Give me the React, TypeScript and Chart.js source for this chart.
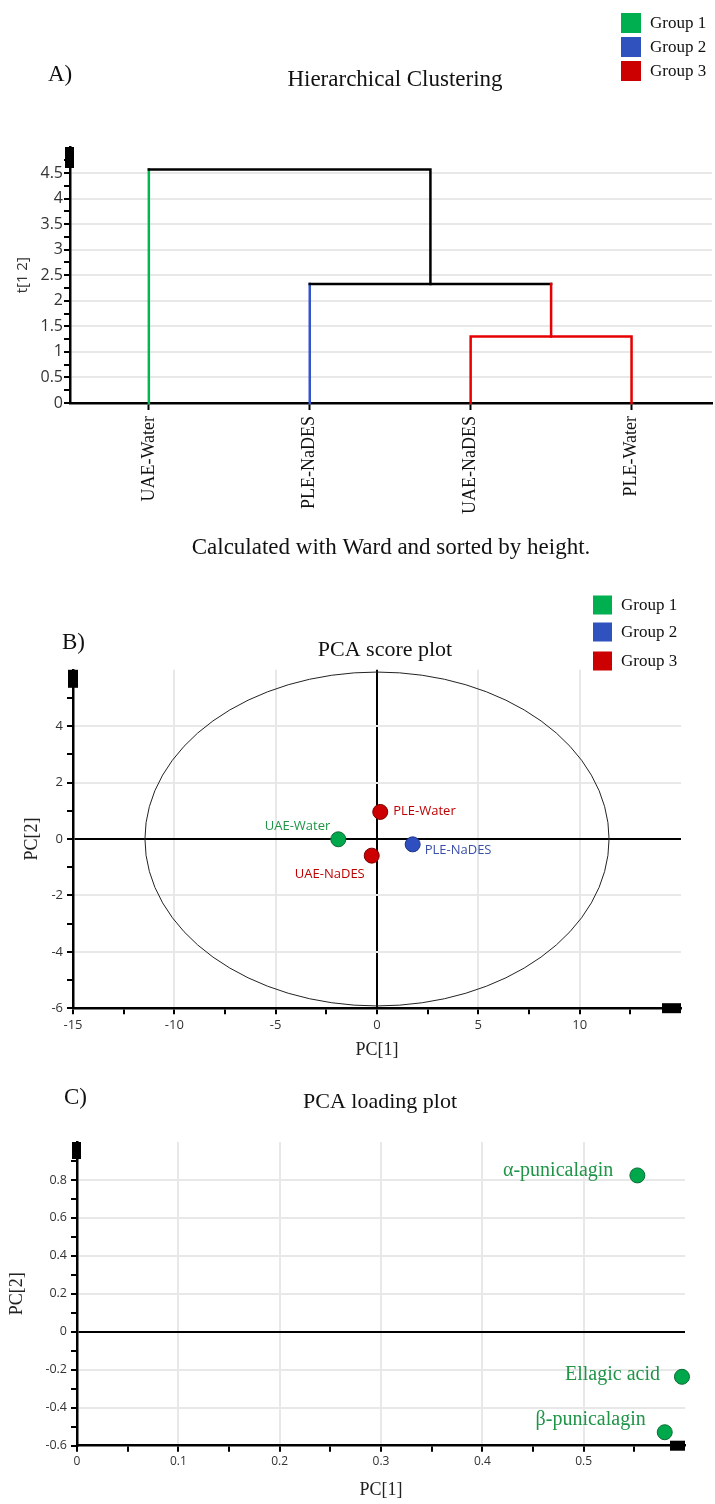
import React, { useEffect, useRef } from 'react';
import { Chart, registerables } from 'chart.js';
Chart.register(...registerables);

// ---------- data ----------
const GROUP_NAMES = ['Group 1', 'Group 2', 'Group 3'];

// Panel A: hierarchical clustering (Ward)
const LEAVES = ['UAE-Water', 'PLE-NaDES', 'UAE-NaDES', 'PLE-Water'];
const LEAF_GROUP = [1, 2, 3, 3];
// children: >=0 leaf index, <0 earlier merge -(k+1)
const MERGE_LEFT = [2, 1, 0];
const MERGE_RIGHT = [3, -1, -2];
const MERGE_HEIGHT = [1.3, 2.33, 4.57];
const A_Y_MAJOR = [0, 0.5, 1, 1.5, 2, 2.5, 3, 3.5, 4, 4.5];
const A_Y_MINOR = [0.25, 0.75, 1.25, 1.75, 2.25, 2.75, 3.25, 3.75, 4.25, 4.75];

// Panel B: PCA score plot
const SCORE_NAMES = ['UAE-Water', 'PLE-NaDES', 'UAE-NaDES', 'PLE-Water'];
const SCORE_PC1 = [-1.91, 1.76, -0.26, 0.16];
const SCORE_PC2 = [-0.01, -0.19, -0.59, 0.96];
const SCORE_GROUP = [1, 2, 3, 3];
const ELLIPSE_PC1 = 11.45;
const ELLIPSE_PC2 = 5.92;
const B_X_MAJOR = [-15, -10, -5, 0, 5, 10];
const B_X_MINOR = [-12.5, -7.5, -2.5, 2.5, 7.5, 12.5];
const B_Y_MAJOR = [-6, -4, -2, 0, 2, 4];
const B_Y_MINOR = [-5, -3, -1, 1, 3, 5];

// Panel C: PCA loading plot
const LOAD_NAMES = ['α-punicalagin', 'Ellagic acid', 'β-punicalagin'];
const LOAD_PC1 = [0.553, 0.597, 0.58];
const LOAD_PC2 = [0.824, -0.237, -0.529];
const C_X_MAJOR = [0, 0.1, 0.2, 0.3, 0.4, 0.5];
const C_X_MINOR = [0.05, 0.15, 0.25, 0.35, 0.45, 0.55];
const C_Y_MAJOR = [-0.6, -0.4, -0.2, 0, 0.2, 0.4, 0.6, 0.8];
const C_Y_MINOR = [-0.5, -0.3, -0.1, 0.1, 0.3, 0.5, 0.7, 0.9];

// ---------- styles ----------
const SERIF = '"Liberation Serif", "Times New Roman", serif';
const SANS = '"Open Sans", "Noto Sans", sans-serif';
const GRID = '#e8e8e8';
const NONE = 'rgba(0,0,0,0)';
const TICK_TEXT = '#333';
const GROUP_COLORS = ['#00b050', '#2f52be', '#cc0000'];
const LINE_COLORS = ['#000000', '#00b84f', '#3355cc', '#e60000'];
const POINT_FILL = ['#00a84c', '#2f4fc0', '#cc0000'];
const POINT_BORDER = ['#0b6b33', '#1d3380', '#7a0000'];
const LABEL_COLORS = ['#1f9447', '#3a4fa8', '#c00000'];
const SCORE_LABEL_POS = [
  { dx: -8, dy: -13, align: 'right' },
  { dx: 12, dy: 6, align: 'left' },
  { dx: -7, dy: 19, align: 'right' },
  { dx: 13, dy: -1, align: 'left' },
];
const LOAD_LABEL_POS = [
  { dx: -24, dy: -5 },
  { dx: -22, dy: -2 },
  { dx: -19, dy: -12 },
];

// ---------- helpers ----------
const near = (a: number, b: number) => Math.abs(a - b) < 1e-7;
const isIn = (arr: number[], v: number) => arr.some((m) => near(m, v));
const fmt = (v: number) => String(Number(v.toFixed(3)));
const tickList = (a: number[], b: number[]) =>
  [...a, ...b].sort((p, q) => p - q).map((v) => ({ value: v }));

function gridFn(gray: number[], black: number[]) {
  return (c: any) => {
    const v = c.tick ? c.tick.value : undefined;
    if (v === undefined) return NONE;
    if (isIn(black, v)) return '#000';
    if (isIn(gray, v)) return GRID;
    return NONE;
  };
}

function drawText(ctx: any, s: string, x: number, y: number, font: string, color: string, align: string) {
  ctx.font = font;
  ctx.fillStyle = color;
  ctx.textAlign = align;
  ctx.textBaseline = 'middle';
  ctx.fillText(s, x, y);
}

function drawLegend(ctx: any, x: number, ys: number[], size: number, textX: number, fontSize: number) {
  GROUP_NAMES.forEach((g, i) => {
    ctx.fillStyle = GROUP_COLORS[i];
    ctx.fillRect(x, ys[i] - size / 2, size, size);
    drawText(ctx, g, textX, ys[i] + 1, `${fontSize}px ${SERIF}`, '#111', 'left');
  });
}

function dendroSegments() {
  const nx: number[] = [];
  const nh: number[] = [];
  const ng: number[] = [];
  const node = (c: number) =>
    c >= 0 ? { x: c, h: 0, g: LEAF_GROUP[c] } : { x: nx[-c - 1], h: nh[-c - 1], g: ng[-c - 1] };
  return MERGE_HEIGHT.map((h, k) => {
    const L = node(MERGE_LEFT[k]);
    const R = node(MERGE_RIGHT[k]);
    const g = L.g === R.g ? L.g : 0;
    nx.push((L.x + R.x) / 2);
    nh.push(h);
    ng.push(g);
    return {
      pts: [
        { x: L.x, y: L.h },
        { x: L.x, y: h },
        { x: R.x, y: h },
        { x: R.x, y: R.h },
      ],
      colors: [LINE_COLORS[L.g], LINE_COLORS[g], LINE_COLORS[R.g]],
    };
  });
}

const baseOpts = {
  responsive: false,
  animation: false,
  devicePixelRatio: 1,
  events: [],
};
const noPlugins = { legend: { display: false }, tooltip: { enabled: false }, title: { display: false } };

// ---------- panel A ----------
function makeA() {
  const segs = dendroSegments();
  const decor = {
    id: 'decorA',
    afterDraw(chart: any) {
      const ctx = chart.ctx;
      const { left, top } = chart.chartArea;
      ctx.save();
      ctx.fillStyle = '#000';
      ctx.fillRect(left - 5, top - 0.5, 9, 21);
      drawText(ctx, 'A)', 48, 75, `23px ${SERIF}`, '#111', 'left');
      drawText(ctx, 'Hierarchical Clustering', 395, 80, `23px ${SERIF}`, '#111', 'center');
      drawLegend(ctx, 621, [23, 47, 71], 20, 650, 17);
      ctx.restore();
    },
  };
  return {
    type: 'scatter',
    data: {
      datasets: segs.map((s) => ({
        data: s.pts,
        showLine: true,
        pointRadius: 0,
        borderWidth: 2.5,
        borderColor: s.colors[1],
        segment: { borderColor: (c: any) => s.colors[c.p0DataIndex] },
        borderCapStyle: 'square',
        borderJoinStyle: 'miter',
        clip: false,
      })),
    },
    options: {
      ...baseOpts,
      layout: { padding: { top: 147.5, left: 0, right: 3, bottom: 0 } },
      plugins: noPlugins,
      scales: {
        x: {
          type: 'linear',
          min: -0.49,
          max: 3.5,
          afterBuildTicks: (s: any) => {
            s.ticks = LEAVES.map((_, i) => ({ value: i }));
          },
          afterFit: (s: any) => {
            s.height = 167;
          },
          ticks: {
            autoSkip: false,
            minRotation: 90,
            maxRotation: 90,
            padding: 6,
            color: '#111',
            font: { family: SERIF, size: 18 },
            callback: (v: number) => LEAVES[Math.round(v)] ?? '',
          },
          grid: { drawOnChartArea: false, drawTicks: true, tickLength: 7, tickWidth: 2, tickColor: '#000' },
          border: { color: '#000', width: 2.5 },
          title: {
            display: true,
            text: 'Calculated with Ward and sorted by height.',
            color: '#111',
            font: { family: SERIF, size: 23 },
            padding: { top: 0, bottom: 8 },
          },
        },
        y: {
          type: 'linear',
          min: 0,
          max: 5,
          afterBuildTicks: (s: any) => {
            s.ticks = tickList(A_Y_MAJOR, A_Y_MINOR);
          },
          afterFit: (s: any) => {
            s.width = 70;
          },
          ticks: {
            autoSkip: false,
            padding: 1,
            color: TICK_TEXT,
            font: { family: SANS, size: 16 },
            callback: (v: number) => (isIn(A_Y_MAJOR, v) ? fmt(v) : ''),
          },
          grid: {
            color: gridFn(A_Y_MAJOR.filter((v) => v > 0), []),
            lineWidth: 2,
            tickLength: 6,
            tickWidth: 2,
            tickColor: '#000',
          },
          border: { color: '#000', width: 2.5 },
          title: {
            display: true,
            text: 't[1 2]',
            color: TICK_TEXT,
            font: { family: SANS, size: 15 },
            padding: { top: 14, bottom: 0 },
          },
        },
      },
    },
    plugins: [decor],
  };
}

// ---------- panel B ----------
function makeB() {
  const decor = {
    id: 'decorB',
    beforeDatasetsDraw(chart: any) {
      const ctx = chart.ctx;
      const xs = chart.scales.x;
      const ys = chart.scales.y;
      const cx = xs.getPixelForValue(0);
      const cy = ys.getPixelForValue(0);
      const rx = xs.getPixelForValue(ELLIPSE_PC1) - cx;
      const ry = cy - ys.getPixelForValue(ELLIPSE_PC2);
      ctx.save();
      ctx.strokeStyle = '#222';
      ctx.lineWidth = 1;
      ctx.beginPath();
      ctx.ellipse(cx, cy, rx, ry, 0, 0, Math.PI * 2);
      ctx.stroke();
      ctx.restore();
    },
    afterDraw(chart: any) {
      const ctx = chart.ctx;
      const { left, top, right, bottom } = chart.chartArea;
      const xs = chart.scales.x;
      const ys = chart.scales.y;
      ctx.save();
      ctx.fillStyle = '#000';
      ctx.fillRect(left - 5, top, 10, 18);
      ctx.fillRect(right - 19, bottom - 5, 19, 10);
      SCORE_NAMES.forEach((n, i) => {
        const p = SCORE_LABEL_POS[i];
        const px = xs.getPixelForValue(SCORE_PC1[i]);
        const py = ys.getPixelForValue(SCORE_PC2[i]);
        drawText(ctx, n, px + p.dx, py + p.dy, `13px ${SANS}`, LABEL_COLORS[SCORE_GROUP[i] - 1], p.align);
      });
      drawText(ctx, 'B)', 62, 73, `23px ${SERIF}`, '#111', 'left');
      drawText(ctx, 'PCA score plot', 385, 80, `22px ${SERIF}`, '#111', 'center');
      drawLegend(ctx, 593, [35, 62, 91], 19, 621, 17);
      ctx.restore();
    },
  };
  return {
    type: 'scatter',
    data: {
      datasets: GROUP_NAMES.map((g, gi) => ({
        label: g,
        data: SCORE_NAMES.map((n, i) => ({ x: SCORE_PC1[i], y: SCORE_PC2[i], n, g: SCORE_GROUP[i] }))
          .filter((d) => d.g === gi + 1),
        backgroundColor: POINT_FILL[gi],
        borderColor: POINT_BORDER[gi],
        borderWidth: 1,
        pointRadius: 7.5,
        clip: false,
      })),
    },
    options: {
      ...baseOpts,
      layout: { padding: { top: 99.8, left: 0, right: 34, bottom: 0 } },
      plugins: noPlugins,
      scales: {
        x: {
          type: 'linear',
          min: -15,
          max: 15,
          afterBuildTicks: (s: any) => {
            s.ticks = tickList(B_X_MAJOR, B_X_MINOR);
          },
          afterFit: (s: any) => {
            s.height = 56.8;
          },
          ticks: {
            autoSkip: false,
            maxRotation: 0,
            padding: 3,
            color: TICK_TEXT,
            font: { family: SANS, size: 13 },
            callback: (v: number) => (isIn(B_X_MAJOR, v) ? fmt(v) : ''),
          },
          grid: {
            color: gridFn([-10, -5, 5, 10], [0]),
            lineWidth: 2,
            tickLength: 6,
            tickWidth: 2,
            tickColor: '#000',
          },
          border: { color: '#000', width: 2.5 },
          title: {
            display: true,
            text: 'PC[1]',
            color: '#222',
            font: { family: SERIF, size: 18 },
            padding: { top: 0, bottom: 4 },
          },
        },
        y: {
          type: 'linear',
          min: -6,
          max: 6,
          afterBuildTicks: (s: any) => {
            s.ticks = tickList(B_Y_MAJOR, B_Y_MINOR);
          },
          afterFit: (s: any) => {
            s.width = 73;
          },
          ticks: {
            autoSkip: false,
            padding: 4,
            color: TICK_TEXT,
            font: { family: SANS, size: 13 },
            callback: (v: number) => (isIn(B_Y_MAJOR, v) ? fmt(v) : ''),
          },
          grid: {
            color: gridFn([-4, -2, 2, 4], [0]),
            lineWidth: 2,
            tickLength: 6,
            tickWidth: 2,
            tickColor: '#000',
          },
          border: { color: '#000', width: 2.5 },
          title: {
            display: true,
            text: 'PC[2]',
            color: '#222',
            font: { family: SERIF, size: 18 },
            padding: { top: 21, bottom: 0 },
          },
        },
      },
    },
    plugins: [decor],
  };
}

// ---------- panel C ----------
function makeC() {
  const decor = {
    id: 'decorC',
    afterDraw(chart: any) {
      const ctx = chart.ctx;
      const { left, top, right, bottom } = chart.chartArea;
      const xs = chart.scales.x;
      const ys = chart.scales.y;
      ctx.save();
      ctx.fillStyle = '#000';
      ctx.fillRect(left - 5, top, 9, 17);
      ctx.fillRect(right - 15, bottom - 5, 15, 10);
      LOAD_NAMES.forEach((n, i) => {
        const p = LOAD_LABEL_POS[i];
        const px = xs.getPixelForValue(LOAD_PC1[i]);
        const py = ys.getPixelForValue(LOAD_PC2[i]);
        drawText(ctx, n, px + p.dx, py + p.dy, `20px ${SERIF}`, LABEL_COLORS[0], 'right');
      });
      drawText(ctx, 'C)', 64, 33, `23px ${SERIF}`, '#111', 'left');
      drawText(ctx, 'PCA loading plot', 380, 37, `22px ${SERIF}`, '#111', 'center');
      ctx.restore();
    },
  };
  return {
    type: 'scatter',
    data: {
      datasets: [
        {
          label: 'loadings',
          data: LOAD_NAMES.map((n, i) => ({ x: LOAD_PC1[i], y: LOAD_PC2[i], n })),
          backgroundColor: POINT_FILL[0],
          borderColor: POINT_BORDER[0],
          borderWidth: 1,
          pointRadius: 7.5,
          clip: false,
        },
      ],
    },
    options: {
      ...baseOpts,
      layout: { padding: { top: 77, left: 0, right: 30, bottom: 0 } },
      plugins: noPlugins,
      scales: {
        x: {
          type: 'linear',
          min: 0,
          max: 0.6,
          afterBuildTicks: (s: any) => {
            s.ticks = tickList(C_X_MAJOR, C_X_MINOR);
          },
          afterFit: (s: any) => {
            s.height = 58.3;
          },
          ticks: {
            autoSkip: false,
            maxRotation: 0,
            padding: 3,
            color: TICK_TEXT,
            font: { family: SANS, size: 12 },
            callback: (v: number) => (isIn(C_X_MAJOR, v) ? fmt(v) : ''),
          },
          grid: {
            color: gridFn([0.1, 0.2, 0.3, 0.4, 0.5], []),
            lineWidth: 2,
            tickLength: 6,
            tickWidth: 2,
            tickColor: '#000',
          },
          border: { color: '#000', width: 2.5 },
          title: {
            display: true,
            text: 'PC[1]',
            color: '#222',
            font: { family: SERIF, size: 18 },
            padding: { top: 0, bottom: 3 },
          },
        },
        y: {
          type: 'linear',
          min: -0.6,
          max: 1.0,
          afterBuildTicks: (s: any) => {
            s.ticks = tickList(C_Y_MAJOR, C_Y_MINOR);
          },
          afterFit: (s: any) => {
            s.width = 77;
          },
          ticks: {
            autoSkip: false,
            padding: 4,
            color: TICK_TEXT,
            font: { family: SANS, size: 12.5 },
            callback: (v: number) => (isIn(C_Y_MAJOR, v) ? fmt(v) : ''),
          },
          grid: {
            color: gridFn([-0.4, -0.2, 0.2, 0.4, 0.6, 0.8], [0]),
            lineWidth: 2,
            tickLength: 6,
            tickWidth: 2,
            tickColor: '#000',
          },
          border: { color: '#000', width: 2.5 },
          title: {
            display: true,
            text: 'PC[2]',
            color: '#222',
            font: { family: SERIF, size: 18 },
            padding: { top: 6, bottom: 0 },
          },
        },
      },
    },
    plugins: [decor],
  };
}

function Panel({ top, height, make }: { top: number; height: number; make: () => any }) {
  const ref = useRef<HTMLCanvasElement>(null);
  useEffect(() => {
    const chart = new Chart(ref.current as HTMLCanvasElement, make());
    return () => chart.destroy();
  }, []);
  return (
    <canvas
      ref={ref}
      width={715}
      height={height}
      style={{ position: 'absolute', left: 0, top, width: 715, height, display: 'block' }}
    />
  );
}

export default function App() {
  return (
    <div style={{ position: 'absolute', left: 0, top: 0, width: 715, height: 1504, background: '#fff', overflow: 'hidden' }}>
      <Panel top={0} height={570} make={makeA} />
      <Panel top={570} height={495} make={makeB} />
      <Panel top={1065} height={439} make={makeC} />
    </div>
  );
}
